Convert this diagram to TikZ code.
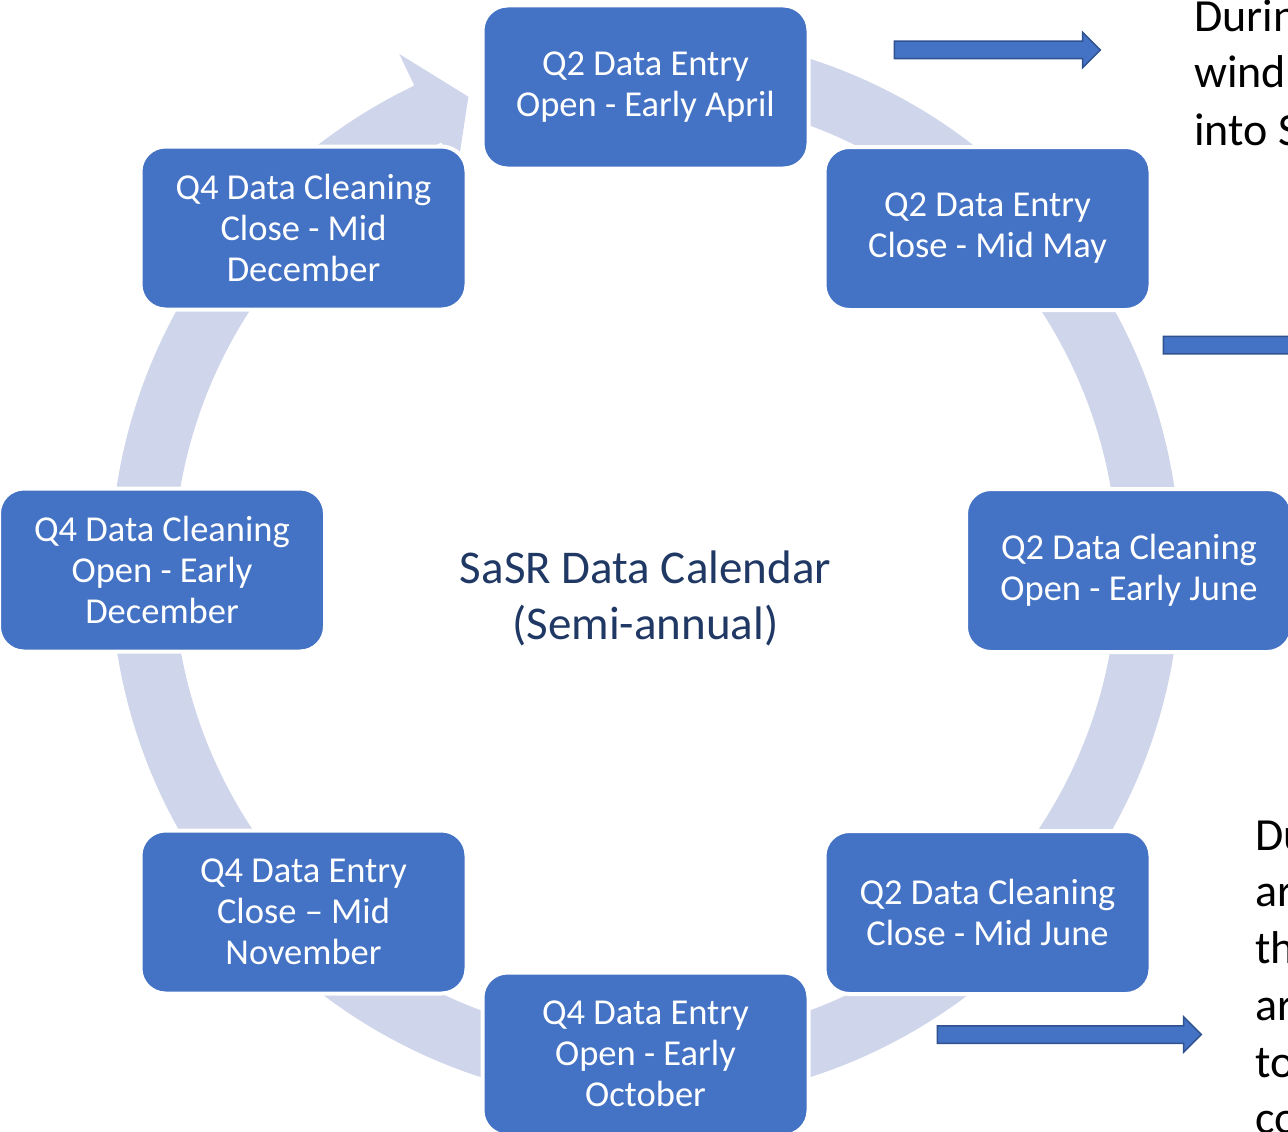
\documentclass[tikz,border=0pt]{standalone}
\usepackage{fontspec}
\setmainfont{Carlito}
\usetikzlibrary{shapes.arrows}
\definecolor{boxblue}{HTML}{4472C4}
\definecolor{boxedge}{HTML}{2F528F}
\definecolor{ringc}{HTML}{CFD5EA}
\definecolor{navy}{HTML}{203864}
\tikzset{
  stagebox/.style={rectangle, rounded corners=25pt, fill=boxblue, draw=white, line width=4pt,
    minimum width=326pt, minimum height=163pt, text=white, align=center, inner sep=0pt,
    font=\fontsize{36.5}{41}\selectfont},
  blockarrow/.style={single arrow, fill=boxblue, draw=boxedge, line width=1.5pt, inner sep=0pt,
    minimum width=34pt, single arrow head extend=9pt, single arrow tip angle=90, text height=16pt, text depth=0pt},
  sidetext/.style={anchor=base west, inner sep=0pt, text=black, font=\fontsize{46}{56}\selectfont},
  centertext/.style={anchor=base, inner sep=0pt, text=navy, font=\fontsize{47}{57}\selectfont}
}
\begin{document}
\begin{tikzpicture}[x=1pt,y=1pt]
\useasboundingbox (0,0) rectangle (1288,-1132);
\clip (0,0) rectangle (1288,-1132);
\coordinate (C) at (645.5,-568);
% circular band with arrowhead
\fill[ringc] ([shift={(95:535)}]C) arc[start angle=95, end angle=-244.4, radius=535pt]
  -- ([shift={(-244.4:570)}]C) -- ([shift={(-249.4:503.5)}]C) -- ([shift={(-244.4:437)}]C)
  -- ([shift={(-244.4:472)}]C) arc[start angle=-244.4, end angle=95, radius=472pt] -- cycle;
% stages
\node[stagebox] (s1) at (645.5,-87) {Q2 Data Entry\\Open - Early April};
\node[stagebox] (s2) at (987.5,-228.5) {Q2 Data Entry\\Close - Mid May};
\node[stagebox] (s3) at (1129,-570.5) {Q2 Data Cleaning\\Open - Early June};
\node[stagebox] (s4) at (987.5,-912.5) {Q2 Data Cleaning\\Close - Mid June};
\node[stagebox] (s5) at (645.5,-1054) {Q4 Data Entry\\Open - Early\\October};
\node[stagebox] (s6) at (303.5,-912) {Q4 Data Entry\\Close -- Mid\\November};
\node[stagebox] (s7) at (162,-570) {Q4 Data Cleaning\\Open - Early\\December};
\node[stagebox] (s8) at (303.5,-228) {Q4 Data Cleaning\\Close - Mid\\December};
% centre title
\node[centertext] (t1) at (645.5,-583) {SaSR Data Calendar};
\node[centertext] (t2) at (645.5,-639) {(Semi-annual)};
% block arrows
\node[blockarrow, minimum height=206pt] (a1) at (993,-50) {};
\node[blockarrow, minimum height=260pt] (a2) at (1289,-345) {};
\node[blockarrow, minimum height=264pt] (a3) at (1065,-1034.5) {};
% cut-off side text
\node[sidetext] (r1) at (1194,-32) {Durin};
\node[sidetext] (r2) at (1194,-88) {wind};
\node[sidetext] (r3) at (1194,-145) {into S};
\node[sidetext] (b1) at (1255,-850) {Du};
\node[sidetext] (b2) at (1255,-906) {ar};
\node[sidetext] (b3) at (1255,-963) {th};
\node[sidetext] (b4) at (1255,-1020) {ar};
\node[sidetext] (b5) at (1255,-1077) {to};
\node[sidetext] (b6) at (1255,-1133) {co};
\end{tikzpicture}
\end{document}
